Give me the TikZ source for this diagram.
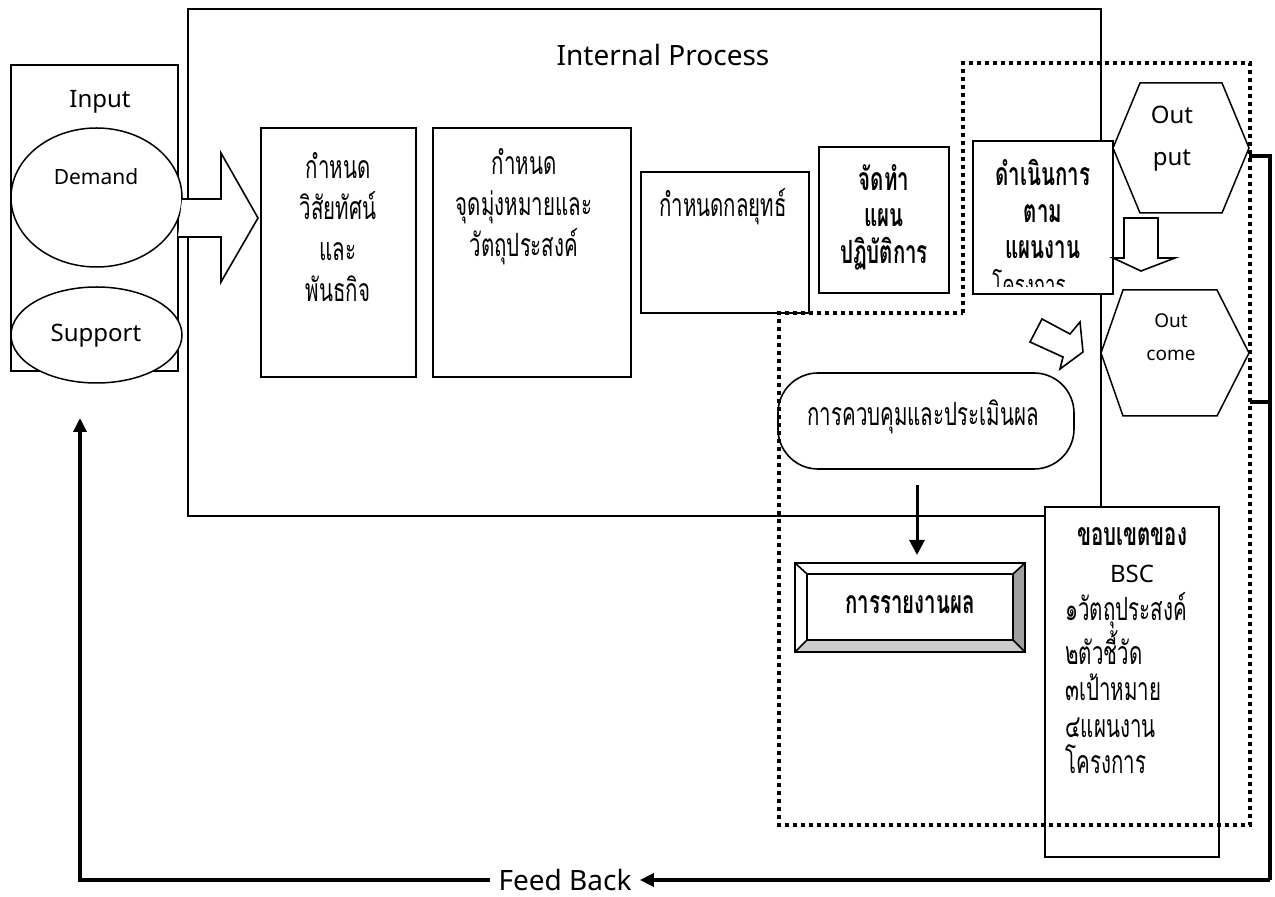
\documentclass[tikz,border=0pt]{standalone}
\usepackage{fontspec}
\setmainfont{Noto Sans}
\newfontfamily\thaifont[Script=Thai, FakeStretch=0.64]{Loma}
\usetikzlibrary{calc,arrows.meta,shapes.geometric}

\tikzset{
  frame/.style={draw, line width=1pt, fill=white, outer sep=0pt, inner sep=0pt},
  stepbox/.style={draw, line width=1pt, fill=white, outer sep=0pt, inner sep=0pt},
  hexbox/.style={outer sep=0pt, inner sep=0pt},
  thai/.style={font=\thaifont\fontsize{16}{20.5}\selectfont, align=center, inner sep=0pt},
  thaibold/.style={font=\thaifont\bfseries\fontsize{16}{18.25}\selectfont, align=center, inner sep=0pt},
  latin/.style={font=\fontsize{12}{21}\selectfont, align=center, inner sep=0pt},
  dots/.style={line width=2pt, dash pattern=on 2pt off 2pt},
  blockarrow/.style={draw, line width=0.8pt, fill=white, line join=miter},
  fbline/.style={line width=2pt, line join=miter},
  tip/.style={-{Triangle[length=7pt,width=6.5pt]}}
}
% hexagon drawn round a (hidden) rectangle node
\newcommand{\drawhex}[3]{%
  \draw[line width=0.75pt, fill=white] (#1.west) -- ([xshift=#2]#1.north west)
    -- ([xshift=-#3]#1.north east) -- (#1.east) -- ([xshift=-#3]#1.south east)
    -- ([xshift=#2]#1.south west) -- cycle;}

\begin{document}
\begin{tikzpicture}[x=0.5pt,y=-0.5pt]
  \useasboundingbox (0,0) rectangle (1275,897);

  % Internal process frame
  \node[frame, minimum width=456.5pt, minimum height=253.5pt] (internal) at (644.5,262.5) {};
  \node[latin, font=\fontsize{14}{16}\selectfont] (internaltitle) at (663,55) {Internal Process};

  % Input side
  \node[frame, line width=0.8pt, minimum width=83.5pt, minimum height=153pt] (input) at (94.5,218) {};
  \node[latin] (inputtitle) at (100,102) {Input};
  \node[ellipse, draw, line width=0.75pt, fill=white, minimum width=85.5pt, minimum height=69.5pt, inner sep=0pt] (demand) at (96.5,197.5) {};
  \node[latin, font=\fontsize{10.5}{12}\selectfont] (demandtext) at (96,177) {Demand};
  \node[ellipse, draw, line width=0.75pt, fill=white, minimum width=85.5pt, minimum height=48pt, inner sep=0pt] (support) at (96.5,335) {};
  \node[latin, font=\fontsize{12}{14}\selectfont] (supporttext) at (96,336) {Support};

  % big arrow into the process
  \fill[white] (182,199) -- (221,199) -- (221,153) -- (258,218) -- (221,282) -- (221,237) -- (178,237) -- cycle;
  \draw[line width=0.8pt, line join=miter] (182,199) -- (221,199) -- (221,153) -- (258,218) -- (221,282) -- (221,237) -- (178,237);

  % Steps
  \node[stepbox, minimum width=77.5pt, minimum height=124.5pt] (vision) at (338.5,252.5) {};
  \node[thai] (visiontext) at (338,227) {กำหนด\\วิสัยทัศน์\\และ\\พันธกิจ};
  \node[stepbox, minimum width=99pt, minimum height=124.5pt] (goal) at (532,252.5) {};
  \node[thai] (goaltext) at (524,207) {กำหนด\\จุดมุ่งหมายและ\\วัตถุประสงค์};
  \node[stepbox, minimum width=84pt, minimum height=70.5pt] (strategy) at (725,242.5) {};
  \node[thai] (strategytext) at (723,207) {กำหนดกลยุทธ์};
  \node[stepbox, minimum width=65pt, minimum height=73pt] (actionplan) at (884,220) {};
  \node[thaibold] (actionplantext) at (884,217) {จัดทำ\\แผน\\ปฏิบัติการ};
  \node[stepbox, minimum width=70pt, minimum height=76.5pt] (operate) at (1043,217.5) {};
  \node[thaibold] (operatetext) at (1043,209) {ดำเนินการ\\ตาม\\แผนงาน};
  \begin{scope}
    \clip ([shift={(1,-7)}]operate.south west) rectangle ([shift={(-1,1)}]operate.north east);
    \node[thai, font=\thaifont\fontsize{14.5}{12}\selectfont] (operatetail) at (1029,283) {โครงการ};
  \end{scope}

  % Output / Outcome
  \node[hexbox, minimum width=68pt, minimum height=65pt] (output) at (1181,148) {};
  \drawhex{output}{13.5pt}{13.5pt}
  \node[latin, font=\fontsize{12}{21}\selectfont] (outputtext) at (1172,139) {Out\\put};
  \node[hexbox, minimum width=74pt, minimum height=63pt] (outcome) at (1175,353) {};
  \drawhex{outcome}{11pt}{16pt}
  \node[latin, font=\fontsize{9.5}{16.5}\selectfont] (outcometext) at (1171,337) {Out\\come};

  % small block arrows
  \draw[blockarrow] (1124,218) -- (1158,218) -- (1158,258) -- (1175,258) -- (1141,271) -- (1113,258) -- (1124,258) -- cycle;
  \draw[blockarrow] (1030,342) -- (1042,319) -- (1070,334) -- (1080,322) -- (1083,352) -- (1060,369) -- (1063,357) -- cycle;

  % Control and report
  \node[draw, line width=0.8pt, rounded corners=20pt, minimum width=148pt, minimum height=48pt, outer sep=0pt] (control) at (926,421) {};
  \node[thai] (controltext) at (923,417) {การควบคุมและประเมินผล};
  \node[draw, line width=1pt, fill=white, minimum width=115pt, minimum height=44.5pt, outer sep=0pt] (report) at (910,607.5) {};
  \fill[gray!40] (report.south west) -- (report.south east) -- ([shift={(-12,-12)}]report.south east) -- ([shift={(12,-12)}]report.south west) -- cycle;
  \fill[gray!75] (report.north east) -- (report.south east) -- ([shift={(-12,-12)}]report.south east) -- ([shift={(-12,11)}]report.north east) -- cycle;
  \draw[line width=1pt] ([shift={(12,11)}]report.north west) rectangle ([shift={(-12,-12)}]report.south east);
  \draw[line width=0.8pt] (report.north west) -- ([shift={(12,11)}]report.north west)
    (report.north east) -- ([shift={(-12,11)}]report.north east)
    (report.south west) -- ([shift={(12,-12)}]report.south west)
    (report.south east) -- ([shift={(-12,-12)}]report.south east);
  \draw[line width=1pt] (report.north west) rectangle (report.south east);
  \node[thaibold] (reporttext) at (910,605) {การรายงานผล};
  \draw[line width=1.5pt, -{Triangle[length=7.5pt,width=7.5pt]}, shorten <=8pt, shorten >=4pt]
    ([xshift=-4.5pt]control.south) -- ([xshift=-4.5pt]control.south |- report.north);

  % BSC scope
  \node[frame, line width=0.8pt, minimum width=87pt, minimum height=175pt] (bsc) at (1132,682) {};
  \node[thai, font=\thaifont\fontsize{16}{18.25}\selectfont] (bsctitle) at (1132,555) {\textbf{ขอบเขตของ}\\{\rmfamily\fontsize{12}{18.25}\selectfont BSC}};
  \node[thai, font=\thaifont\fontsize{16}{18.25}\selectfont, align=left, anchor=west] (bsclist) at (1065,683)
    {๑วัตถุประสงค์\\๒ตัวชี้วัด\\๓เป้าหมาย\\๔แผนงาน\\โครงการ};

  % dotted BSC boundary
  \draw[dots] (963,313) -- (963,63) -- (1250,63) -- (1250,825) -- (779,825) -- (779,313) -- cycle;

  % Feed back loop
  \coordinate (outtap) at (1249,156);
  \coordinate (cometap) at (1250,402);
  \coordinate (fbright) at (1270,880);
  \coordinate (fbleft) at (80,880);
  \coordinate (fbend) at (80,418);
  \node[latin, font=\fontsize{14}{16}\selectfont, inner sep=4pt] (feedback) at (565,880) {Feed Back};
  \draw[fbline] (outtap) -- (outtap -| fbright) -- (fbright);
  \draw[fbline] (cometap) -- (cometap -| fbright);
  \draw[fbline, tip] (fbright) -- (feedback.east);
  \draw[fbline, tip] (feedback.west) -- (fbleft) -- (fbend);
\end{tikzpicture}
\end{document}
